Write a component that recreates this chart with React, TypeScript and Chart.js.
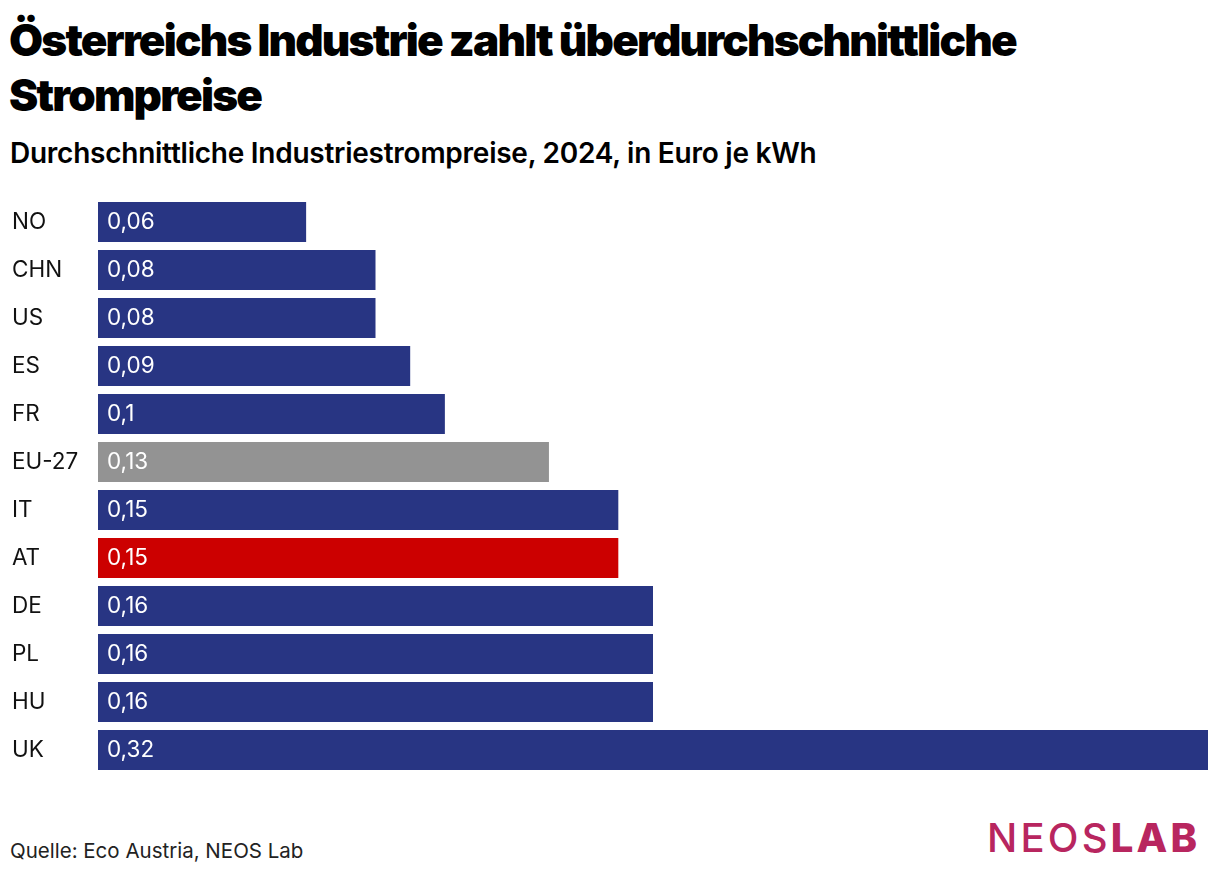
import React, { useEffect, useRef } from "react";
import { Chart, registerables } from "chart.js";

Chart.register(...registerables);

const categories = ["NO", "CHN", "US", "ES", "FR", "EU-27", "IT", "AT", "DE", "PL", "HU", "UK"];
const prices = [0.06, 0.08, 0.08, 0.09, 0.1, 0.13, 0.15, 0.15, 0.16, 0.16, 0.16, 0.32];

const NAVY = "#283583";
const GREY = "#939393";
const RED = "#cc0000";

function colorFor(cat: string) {
  if (cat === "EU-27") return GREY;
  if (cat === "AT") return RED;
  return NAVY;
}

const BODY_FONT = "Inter, 'Noto Sans', sans-serif";

export default function App() {
  const ref = useRef<HTMLCanvasElement | null>(null);

  useEffect(() => {
    document.body.style.margin = "0";
    const canvas = ref.current!;
    const valuePlugin = {
      id: "valueLabels",
      afterDatasetsDraw(chart: any) {
        const ctx = chart.ctx;
        const meta = chart.getDatasetMeta(0);
        ctx.save();
        ctx.fillStyle = "#ffffff";
        ctx.font = `400 22.5px ${BODY_FONT}`;
        ctx.textAlign = "left";
        ctx.textBaseline = "middle";
        meta.data.forEach((bar: any, i: number) => {
          const txt = String(prices[i]).replace(".", ",");
          ctx.fillText(txt, bar.base + 9, bar.y);
        });
        ctx.restore();
      },
    };
    const chart = new Chart(canvas, {
      type: "bar",
      data: {
        labels: categories,
        datasets: [
          {
            data: prices,
            backgroundColor: categories.map(colorFor),
            barPercentage: 40 / 48,
            categoryPercentage: 1,
            borderWidth: 0,
          },
        ],
      },
      options: {
        indexAxis: "y",
        animation: false,
        responsive: false,
        maintainAspectRatio: false,
        layout: { padding: { left: 12, right: 12, top: 0, bottom: 0 } },
        plugins: { legend: { display: false }, tooltip: { enabled: false } },
        scales: {
          x: { display: false, min: 0, max: 0.32 },
          y: {
            grid: { display: false },
            border: { display: false },
            ticks: {
              crossAlign: "far",
              padding: 0,
              color: "#111111",
              font: { family: BODY_FONT, size: 22.5, weight: "400" as any },
            },
            afterFit(scale: any) {
              scale.width = 86;
              scale.paddingTop = 0;
              scale.paddingBottom = 0;
            },
          },
        },
      },
      plugins: [valuePlugin],
    });
    return () => chart.destroy();
  }, []);

  return (
    <div style={{ position: "relative", width: 1220, height: 874, background: "#fff", overflow: "hidden" }}>
      <div
        style={{
          position: "absolute",
          left: 9,
          top: 13,
          width: 1210,
          fontFamily: "Inter, sans-serif",
          fontWeight: 900,
          fontSize: 44,
          lineHeight: "55px",
          letterSpacing: "-1.8px",
          color: "#000",
          whiteSpace: "nowrap",
        }}
      >
        Österreichs Industrie zahlt überdurchschnittliche
        <br />
        Strompreise
      </div>
      <div
        style={{
          position: "absolute",
          left: 10,
          top: 136,
          fontFamily: "Inter, sans-serif",
          fontWeight: 600,
          fontSize: 28,
          letterSpacing: "-0.25px",
          color: "#000",
          whiteSpace: "nowrap",
        }}
      >
        Durchschnittliche Industriestrompreise, 2024, in Euro je kWh
      </div>
      <canvas
        ref={ref}
        width={1220}
        height={576}
        style={{ position: "absolute", left: 0, top: 198, width: 1220, height: 576 }}
      />
      <div
        style={{
          position: "absolute",
          left: 10,
          top: 838,
          fontFamily: "Inter, sans-serif",
          fontWeight: 400,
          fontSize: 20.5,
          color: "#222",
          whiteSpace: "nowrap",
        }}
      >
        Quelle: Eco Austria, NEOS Lab
      </div>
      <div
        style={{
          position: "absolute",
          left: 987,
          top: 813,
          fontFamily: "Inter, sans-serif",
          fontSize: 40,
          color: "#b8265f",
          whiteSpace: "nowrap",
          letterSpacing: "3.2px",
          lineHeight: "50px",
        }}
      >
        <span style={{ fontWeight: 500 }}>NEOS</span>
        <span style={{ fontWeight: 800 }}>LAB</span>
      </div>
    </div>
  );
}
